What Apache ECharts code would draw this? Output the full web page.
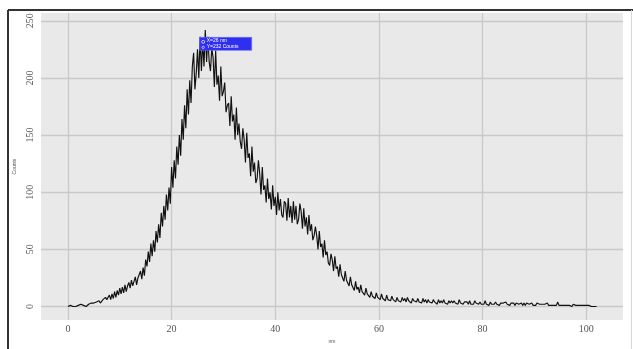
<!DOCTYPE html>
<html>
<head>
<meta charset="utf-8">
<script src="https://cdn.jsdelivr.net/npm/echarts@6/dist/echarts.min.js"></script>
<style>
  html, body { margin: 0; padding: 0; background: #fff; }
  #chart { width: 633px; height: 349px; }
</style>
</head>
<body>
<div id="chart"></div>
<script>
// Particle size histogram: counts per 0.25 nm bin, starting at 0 nm
const binStart = 0;
const binWidth = 0.25;
const counts = [
  0,0,1,0, 0,1,0,1, 1,0,2,1, 1,2,0,1, 2,1,3,2,
  3,2,4,3, 5,3,4,6, 5,8,6,7, 10,6,11,7, 13,8,14,10,
  16,11,17,12, 19,13,18,21, 16,23,18,22, 26,19,25,28, 31,24,34,27,
  41,35,48,39, 55,44,58,48, 66,56,72,60, 82,70,88,76, 98,84,104,90,
  122,104,128,112, 140,124,150,132, 164,146,176,156, 190,168,198,178, 210,222,190,204,
  225,200,236,206, 232,210,242,214, 236,214,206,226, 218,192,224,194, 202,180,210,184,
  188,196,170,176, 178,158,184,162, 168,146,174,150, 160,144,138,156, 146,126,152,130,
  134,114,140,118, 126,108,112,128, 116,98,122,102, 106,91,112,94, 100,85,106,88,
  96,80,100,84, 94,80,78,92, 90,75,95,78, 88,73,92,76, 88,72,76,90,
  83,68,86,70, 78,63,80,66, 72,58,62,70, 62,50,66,52, 55,43,58,45,
  48,38,36,46, 41,31,44,33, 35,26,37,28, 29,22,31,23, 24,18,26,19,
  20,14,22,15, 17,12,19,13, 14,10,16,11, 12,8,13,9, 10,7,12,8,
  9,6,11,7, 8,5,10,6, 7,5,9,6, 7,4,8,5, 6,4,8,5,
  7,4,8,5, 6,3,7,5, 6,4,7,4, 5,3,7,4, 6,3,6,4,
  5,3,6,4, 4,2,6,3, 5,3,6,3, 4,2,5,3, 5,3,5,3,
  4,2,6,3, 4,2,4,3, 4,2,5,2, 3,2,5,3, 4,2,4,2,
  3,2,5,2, 3,1,4,2, 3,2,4,2, 3,1,3,2, 3,2,4,2,
  2,1,3,2, 3,1,3,2, 2,1,3,1, 3,1,3,2, 2,1,3,1,
  2,1,3,2, 2,1,2,1, 2,1,3,1, 2,1,2,1, 2,1,4,1,
  2,1,2,1, 1,1,2,1, 1,0,2,1, 1,0,1,1, 1,0,1,0,
  1,0,1,0, 0,1,0,0, 0
];
const xTicks = [0, 20, 40, 60, 80, 100];
const yTicks = [0, 50, 100, 150, 200, 250];
const peakLabel = { x: 26, y: 232, unit: 'nm', yUnit: 'Counts' };

const points = counts.map((c, i) => [binStart + i * binWidth, c]);

const serif = '"Liberation Serif", "DejaVu Serif", serif';
const chart = echarts.init(document.getElementById('chart'), null, { renderer: 'canvas' });

const frame = [
  // outer frame: top and left dark rules, right faint rule
  { type: 'line', shape: { x1: 8, y1: 10, x2: 633, y2: 10 }, style: { stroke: '#333', lineWidth: 2 } },
  { type: 'line', shape: { x1: 8, y1: 10, x2: 8, y2: 349 }, style: { stroke: '#333', lineWidth: 2 } },
  { type: 'line', shape: { x1: 631.5, y1: 10, x2: 631.5, y2: 349 }, style: { stroke: '#d8d8d8', lineWidth: 1 } }
];

const gridLine = { show: true, showMinLine: false, showMaxLine: false, lineStyle: { color: '#c9c9c9', width: 1.3 } };

chart.setOption({
  animation: false,
  backgroundColor: '#ffffff',
  grid: { left: 41, top: 13, width: 582, height: 316, show: true, backgroundColor: '#e9e9e9', borderWidth: 0 },
  xAxis: {
    type: 'value',
    min: -5.2, max: 107.1,
    splitNumber: 5,
    name: 'nm', nameLocation: 'middle', nameGap: 16,
    nameTextStyle: { fontSize: 5, color: '#555', fontFamily: 'Arial' },
    axisLine: { show: false },
    axisTick: { show: false },
    splitLine: gridLine,
    axisLabel: {
      margin: 4, fontSize: 10, color: '#555', fontFamily: serif,
      showMinLabel: false, showMaxLabel: false,
      formatter: v => xTicks.includes(v) ? String(v) : ''
    }
  },
  yAxis: {
    type: 'value',
    min: -11.9, max: 256.8,
    name: 'Counts', nameLocation: 'middle', nameGap: 23,
    nameTextStyle: { fontSize: 5, color: '#555', fontFamily: 'Arial' },
    axisLine: { show: false },
    axisTick: { show: false },
    splitLine: gridLine,
    axisLabel: {
      margin: 6, rotate: 90, fontSize: 10, color: '#555', fontFamily: serif,
      showMinLabel: false, showMaxLabel: false,
      formatter: v => yTicks.includes(v) ? String(v) : ''
    }
  },
  series: [{
    type: 'line',
    data: points,
    showSymbol: false,
    lineStyle: { color: '#111', width: 1.15 },
    silent: true
  }],
  graphic: frame
});

// Peak readout box anchored at the peak bin
const p = chart.convertToPixel({ gridIndex: 0 }, [peakLabel.x, peakLabel.y]);
chart.setOption({
  graphic: frame.concat([
    { type: 'rect', shape: { x: p[0] - 3, y: p[1] - 4, width: 52, height: 13 },
      style: { fill: '#2f2ff0', stroke: '#6a6aff', lineWidth: 0.6 }, z: 100 },
    { type: 'circle', shape: { cx: p[0] + 0.5, cy: p[1] + 0.5, r: 1.5 },
      style: { fill: 'none', stroke: '#fff', lineWidth: 0.7 }, z: 101 },
    { type: 'circle', shape: { cx: p[0] + 0.5, cy: p[1] + 6, r: 1.2 },
      style: { fill: 'none', stroke: '#fff', lineWidth: 0.6 }, z: 101 },
    { type: 'text', x: p[0] + 4, y: p[1] - 3,
      style: { text: 'X=' + peakLabel.x + ' ' + peakLabel.unit, fill: '#fff', fontSize: 5, fontFamily: 'Arial' }, z: 101 },
    { type: 'text', x: p[0] + 4, y: p[1] + 3,
      style: { text: 'Y=' + peakLabel.y + ' ' + peakLabel.yUnit, fill: '#fff', fontSize: 5, fontFamily: 'Arial' }, z: 101 }
  ])
});
</script>
</body>
</html>
